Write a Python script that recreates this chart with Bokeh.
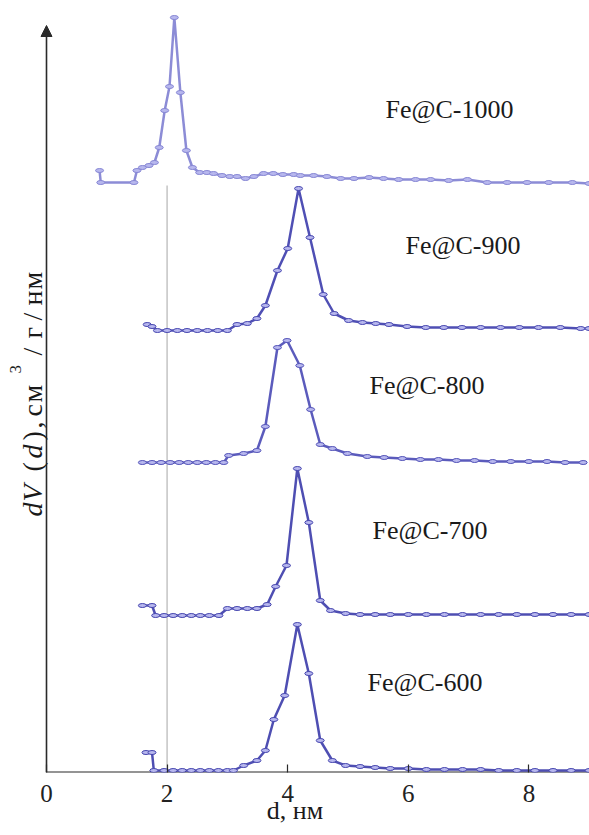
from bokeh.plotting import figure
from bokeh.models import Label, Arrow, NormalHead, FixedTicker, Range1d
from bokeh.embed import file_html
from bokeh.resources import INLINE

# ---- data (pore diameter d, nm ; stacked dV(d), arbitrary units) ----
d_1000 = [0.88, 0.90, 1.45, 1.50, 1.59, 1.70, 1.79, 1.87, 1.96, 2.04, 2.12, 2.22, 2.32, 2.42, 2.54, 2.66,
          2.77, 2.91, 3.04, 3.16, 3.30, 3.44, 3.60, 3.76, 3.92, 4.10, 4.21, 4.43, 4.65, 4.88, 5.10, 5.35,
          5.59, 5.84, 6.12, 6.37, 6.67, 6.98, 7.31, 7.64, 7.97, 8.33, 8.72, 9.00]
v_1000 = [602, 590, 590, 602, 605, 607, 610, 625, 662, 686, 755, 680, 622, 605, 600, 600,
          599, 597, 596, 596, 594, 596, 599, 599, 598, 598, 597, 597, 596, 594, 594, 595,
          594, 593, 593, 593, 592, 593, 590, 590, 590, 590, 590, 589]

d_900 = [1.67, 1.75, 1.84, 2.00, 2.17, 2.33, 2.50, 2.67, 2.84, 3.00, 3.16, 3.33, 3.49, 3.63, 3.83, 4.00,
         4.18, 4.37, 4.59, 4.77, 5.01, 5.24, 5.46, 5.68, 5.98, 6.29, 6.59, 6.89, 7.20, 7.53, 7.84, 8.16,
         8.52, 8.86, 9.00]
v_900 = [448, 446, 442, 442, 442, 442, 442, 442, 442, 442, 448, 449, 454, 467, 502, 524,
         584, 535, 478, 459, 452, 450, 449, 448, 446, 445, 445, 445, 445, 445, 445, 445,
         445, 444, 444]

d_800 = [1.59, 1.75, 1.90, 2.05, 2.20, 2.35, 2.50, 2.65, 2.80, 2.94, 3.02, 3.27, 3.49, 3.63, 3.83, 3.99,
         4.20, 4.38, 4.54, 4.74, 4.99, 5.32, 5.60, 5.90, 6.20, 6.50, 6.80, 7.10, 7.40, 7.70, 8.00, 8.30,
         8.60, 8.90]
v_800 = [310, 310, 310, 310, 310, 310, 310, 310, 310, 310, 317, 319, 322, 346, 425, 432,
         407, 363, 328, 324, 319, 316, 315, 314, 313, 313, 312, 312, 311, 311, 311, 311,
         310, 310]

d_700 = [1.59, 1.75, 1.81, 1.95, 2.10, 2.25, 2.40, 2.55, 2.70, 2.86, 3.00, 3.16, 3.33, 3.49, 3.66, 3.80,
         3.98, 4.16, 4.35, 4.54, 4.71, 4.96, 5.20, 5.45, 5.70, 6.00, 6.30, 6.60, 6.90, 7.20, 7.50, 7.80,
         8.10, 8.40, 8.70, 9.00]
v_700 = [167, 167, 157, 157, 157, 157, 157, 157, 157, 157, 164, 164, 164, 164, 168, 186,
         207, 304, 250, 172, 162, 159, 158, 158, 158, 158, 158, 158, 158, 158, 158, 158,
         158, 158, 158, 158]

d_600 = [1.65, 1.75, 1.78, 1.95, 2.10, 2.25, 2.40, 2.55, 2.70, 2.85, 3.00, 3.10, 3.27, 3.49, 3.63, 3.77,
         3.95, 4.16, 4.35, 4.54, 4.74, 4.96, 5.20, 5.45, 5.70, 6.00, 6.30, 6.60, 6.90, 7.20, 7.50, 7.80,
         8.10, 8.40, 8.70, 9.00]
v_600 = [20, 20, 2, 2, 2, 2, 2, 2, 2, 2, 2, 2, 7, 12, 22, 53,
         77, 148, 99, 32, 12, 7, 6, 5, 4, 4, 3, 3, 3, 3, 2, 2,
         2, 2, 2, 2]

series_names = ["Fe@C-1000", "Fe@C-900", "Fe@C-800", "Fe@C-700", "Fe@C-600"]
x_ticks = [0, 2, 4, 6, 8]
x_title = "d, нм"
x_max = 9.0
ref_d = 2.0

# ---- layout helpers (pixel positions -> data) ----
PX0, PXU, PY0 = 46.0, 60.3, 772.0


def xd(px):
    return (px - PX0) / PXU


def yh(py):
    return PY0 - py


W, H = 589, 835
p = figure(width=W, height=H, output_backend="svg", toolbar_location=None,
           x_range=Range1d(xd(0), xd(W)), y_range=Range1d(0, 760),
           min_border_left=0, min_border_right=0, min_border_top=12, min_border_bottom=H - 772)
p.grid.visible = False
p.outline_line_color = None
p.yaxis.visible = False
p.background_fill_color = "white"

ax = p.xaxis[0]
ax.ticker = FixedTicker(ticks=x_ticks)
ax.axis_line_color = None
ax.major_tick_line_color = "#2a2a2a"
ax.major_tick_line_width = 1.2
ax.major_tick_in = 8
ax.major_tick_out = 0
ax.minor_tick_line_color = None
ax.major_label_text_font = "Liberation Serif"
ax.major_label_text_font_size = "25px"
ax.major_label_text_color = "#222222"
ax.major_label_standoff = 12
ax.axis_label = x_title
ax.axis_label_text_font = "Liberation Serif"
ax.axis_label_text_font_style = "normal"
ax.axis_label_text_font_size = "26px"
ax.axis_label_text_color = "#1a1a1a"
ax.axis_label_standoff = -9

# x axis line from d = 0
p.segment(x0=[0], y0=[0], x1=[x_max + 1], y1=[0], line_color="#2a2a2a", line_width=1.8)

# reference line at d = 2 nm
p.segment(x0=[ref_d], y0=[0], x1=[ref_d], y1=[587], line_color="#c4c4c4", line_width=1.5)

# y axis arrow
p.add_layout(Arrow(end=NormalHead(size=11, fill_color="#2a2a2a", line_color="#2a2a2a"),
                   x_start=0, y_start=0, x_end=0, y_end=747,
                   line_color="#2a2a2a", line_width=1.6))

series = [(d_1000, v_1000), (d_900, v_900), (d_800, v_800), (d_700, v_700), (d_600, v_600)]
line_colors = ["#8686d4", "#4646b0", "#5252b8", "#4444ae", "#4444ae"]
for (dx, vy), lc in zip(series, line_colors):
    p.line(dx, vy, line_color=lc, line_width=2.5, line_alpha=0.95)
    p.ellipse(dx, vy, width=8, height=4, width_units="screen", height_units="screen",
              fill_color="#b8b8ee", line_color=lc, line_width=1.0)

# series labels
lab_px = [385, 405, 369, 372, 367]
lab_py = [109, 245, 385, 530, 682]
for name, lx, ly in zip(series_names, lab_px, lab_py):
    p.add_layout(Label(x=xd(lx), y=yh(ly), text=name, text_font="Liberation Serif",
                       text_font_size="26px", text_color="#1a1a1a", text_baseline="alphabetic"))

# y axis title: "dV(d), см³/г/нм" rotated, placed piece by piece
ylab = [("d", 516, True), ("V", 501, True), ("(", 471, False), ("d", 458, True), (")", 440, False),
        (",", 428, False), ("с", 416, False), ("м", 402, False), ("/", 355, False), ("г", 338, False),
        ("/", 320, False), ("н", 305, False), ("м", 289, False)]
for ch, py, it in ylab:
    p.add_layout(Label(x=xd(32), y=yh(py), text=ch, angle=90, angle_units="deg",
                       text_font="Liberation Serif",
                       text_font_style="italic" if it else "normal", text_font_size="28px",
                       text_color="#1a1a1a", text_baseline="alphabetic", text_align="left"))
p.add_layout(Label(x=xd(15), y=yh(373), text="3", angle=90, angle_units="deg",
                   text_font="Liberation Serif",
                   text_font_size="17px", text_color="#1a1a1a", text_baseline="alphabetic",
                   text_align="left"))

open("out.html", "w").write(file_html(p, INLINE))
